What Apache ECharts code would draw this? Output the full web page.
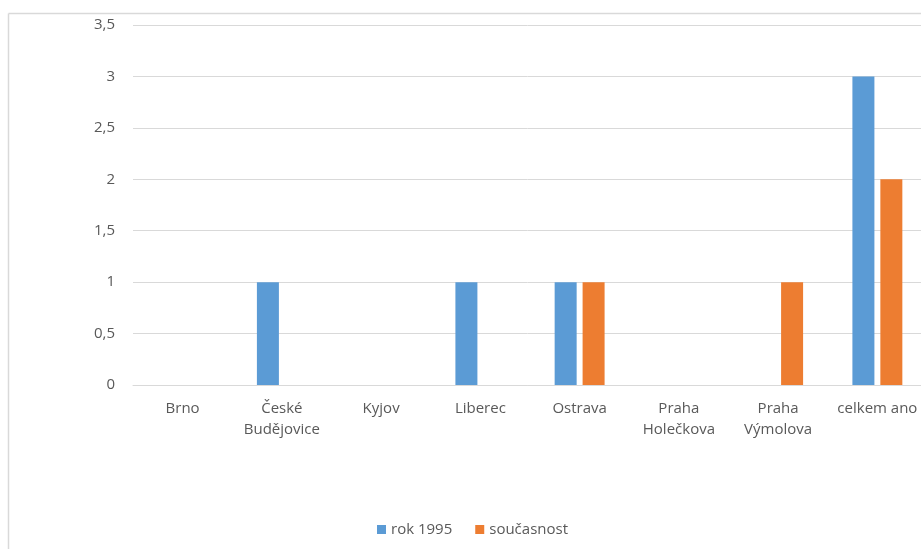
<!DOCTYPE html>
<html>
<head>
<meta charset="utf-8">
<script src="https://cdn.jsdelivr.net/npm/echarts@6/dist/echarts.min.js"></script>
<style>
  html, body { margin: 0; padding: 0; background: #fff; overflow: hidden; }
  #chart { width: 921px; height: 549px; }
</style>
</head>
<body>
<div id="chart"></div>
<script>
// Category names (sites) and the two compared series
const categories = ['Brno', 'České\nBudějovice', 'Kyjov', 'Liberec', 'Ostrava', 'Praha\nHolečkova', 'Praha\nVýmolova', 'celkem ano'];
const rok1995 = [0, 1, 0, 1, 1, 0, 0, 3];
const soucasnost = [0, 0, 0, 0, 1, 0, 1, 2];
const seriesNames = ['rok 1995', 'současnost'];

const FONT = '"Open Sans", "DejaVu Sans", sans-serif';
const TEXT = '#595959';
const LINE = '#d9d9d9';

const chart = echarts.init(document.getElementById('chart'), null, { renderer: 'canvas' });

chart.setOption({
  animation: false,
  backgroundColor: '#fff',
  textStyle: { fontFamily: FONT },
  graphic: [
    // chart frame (top and left edges)
    { type: 'line', shape: { x1: 8.5, y1: 13.5, x2: 925, y2: 13.5 }, style: { stroke: LINE, lineWidth: 1.5 }, silent: true },
    { type: 'line', shape: { x1: 8.5, y1: 13.5, x2: 8.5, y2: 560 }, style: { stroke: LINE, lineWidth: 1.5 }, silent: true }
  ],
  // plot area runs past the right edge of the canvas
  grid: { left: 133, width: 794, top: 25, bottom: 164, containLabel: false, outerBoundsMode: 'none' },
  legend: {
    data: seriesNames,
    left: 372,
    top: 517,
    itemWidth: 9,
    itemHeight: 9,
    itemGap: 23,
    icon: 'rect',
    textStyle: { color: TEXT, fontSize: 15, fontFamily: FONT }
  },
  xAxis: {
    type: 'category',
    data: categories,
    axisLine: { lineStyle: { color: LINE, width: 1 } },
    axisTick: { show: false },
    axisLabel: { color: TEXT, fontSize: 15, fontFamily: FONT, lineHeight: 21, margin: 13, interval: 0 }
  },
  yAxis: {
    type: 'value',
    min: 0,
    max: 3.5,
    interval: 0.5,
    axisLine: { show: false },
    axisTick: { show: false },
    splitLine: { lineStyle: { color: LINE, width: 1 } },
    axisLabel: {
      color: TEXT,
      fontSize: 15,
      fontFamily: FONT,
      margin: 18,
      formatter: v => String(v).replace('.', ',')
    }
  },
  series: [
    {
      name: seriesNames[0],
      type: 'bar',
      data: rok1995,
      barWidth: 22,
      barGap: '27%',
      itemStyle: { color: '#5b9bd5' }
    },
    {
      name: seriesNames[1],
      type: 'bar',
      data: soucasnost,
      barWidth: 22,
      itemStyle: { color: '#ed7d31' }
    }
  ]
});
</script>
</body>
</html>
